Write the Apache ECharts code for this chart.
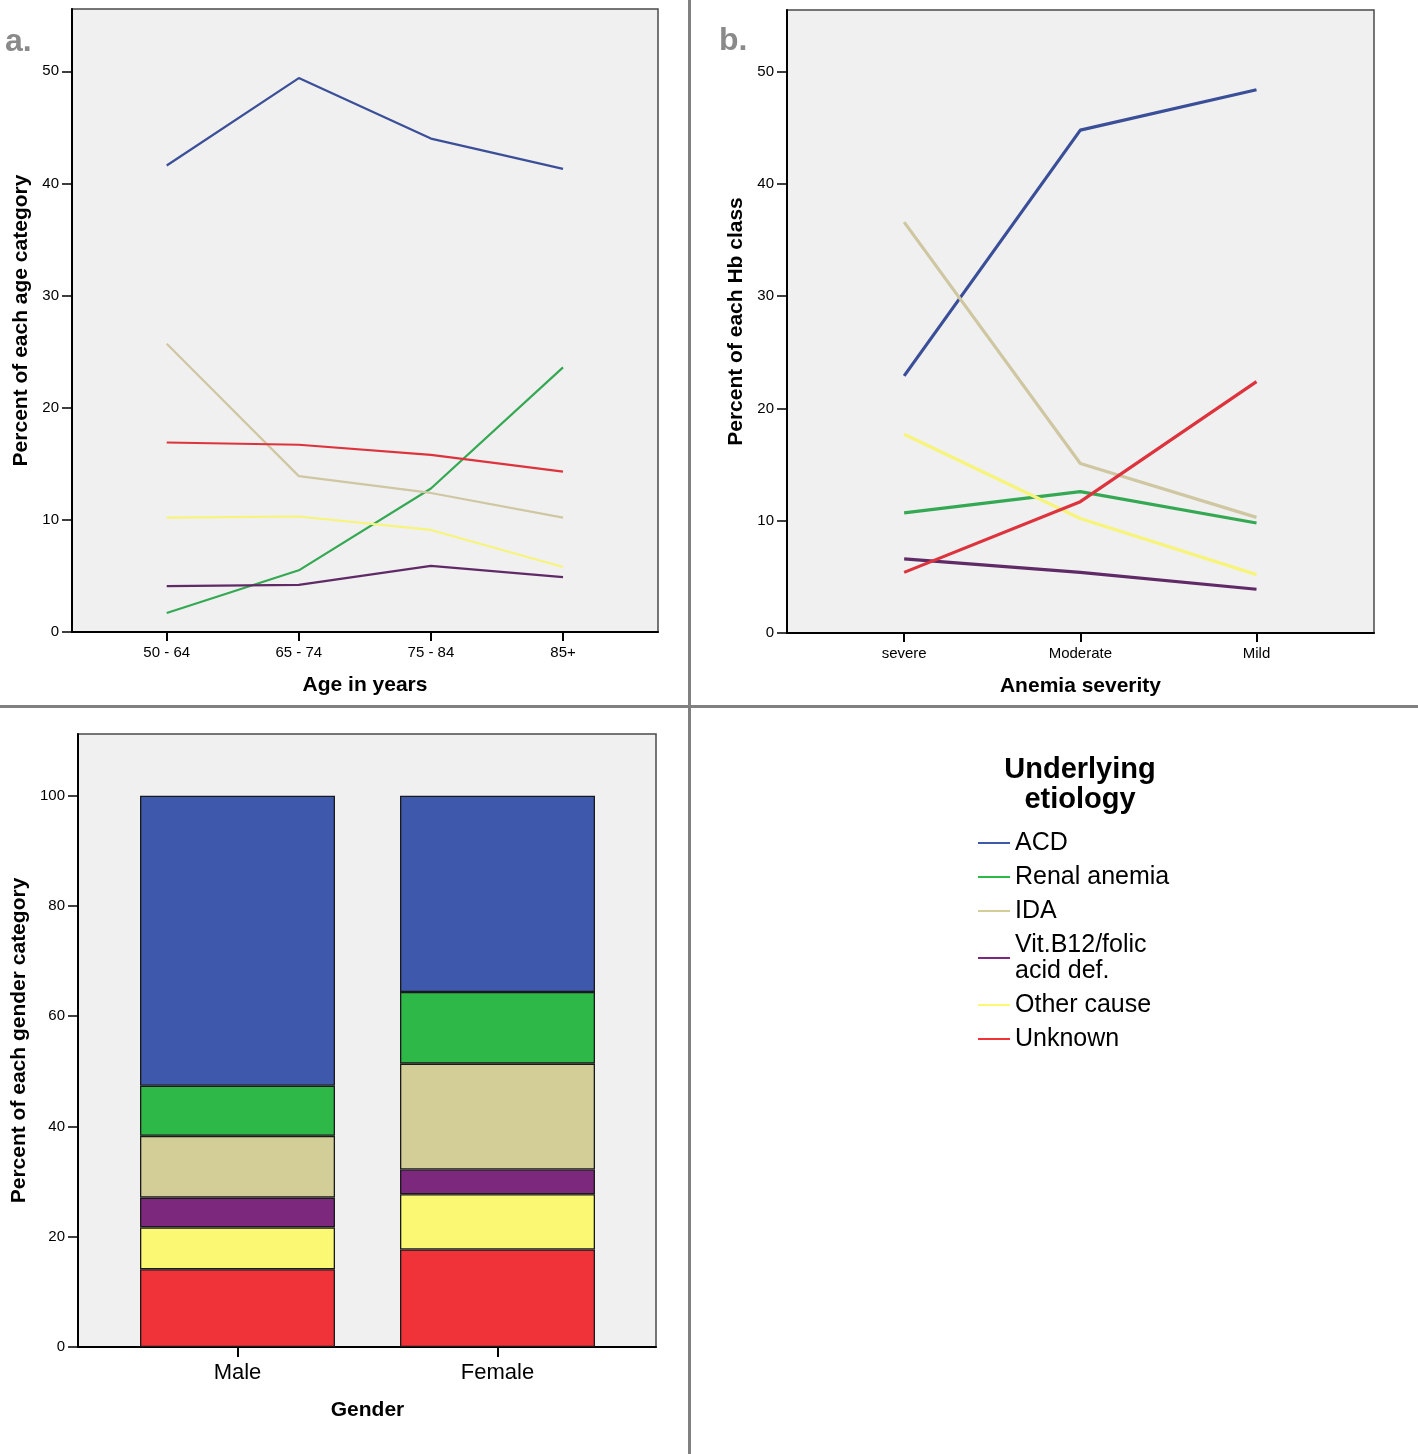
<!DOCTYPE html>
<html>
<head>
<meta charset="utf-8">
<script src="https://cdn.jsdelivr.net/npm/echarts@6/dist/echarts.min.js"></script>
<style>
html,body{margin:0;padding:0;background:#fff;}
#chart{width:1418px;height:1454px;}
</style>
</head>
<body>
<div id="chart"></div>
<script>
// ---- Data ----
const etiologies = ['ACD', 'Renal anemia', 'IDA', 'Vit.B12/folic acid def.', 'Other cause', 'Unknown'];

const ageCats = ['50 - 64', '65 - 74', '75 - 84', '85+'];
const acdAge = [41.6, 49.4, 44.0, 41.3];
const renalAge = [1.7, 5.5, 12.8, 23.6];
const idaAge = [25.7, 13.9, 12.4, 10.2];
const vitAge = [4.1, 4.2, 5.9, 4.9];
const otherAge = [10.2, 10.3, 9.1, 5.8];
const unknownAge = [16.9, 16.7, 15.8, 14.3];

const sevCats = ['severe', 'Moderate', 'Mild'];
const acdSev = [22.9, 44.8, 48.4];
const renalSev = [10.7, 12.6, 9.8];
const idaSev = [36.6, 15.1, 10.3];
const vitSev = [6.6, 5.4, 3.9];
const otherSev = [17.7, 10.2, 5.2];
const unknownSev = [5.4, 11.7, 22.4];

const genderCats = ['Male', 'Female'];
const acdGender = [52.6, 35.6];
const renalGender = [9.1, 13.0];
const idaGender = [11.2, 19.2];
const vitGender = [5.4, 4.5];
const otherGender = [7.6, 10.0];
const unknownGender = [14.1, 17.7];

const lineTicks = [0, 10, 20, 30, 40, 50];
const barTicks = [0, 20, 40, 60, 80, 100];

// ---- Styling ----
const colors = {
  'ACD': '#3E58AC',
  'Renal anemia': '#2EB848',
  'IDA': '#D3CE97',
  'Vit.B12/folic acid def.': '#7C287D',
  'Other cause': '#FBF873',
  'Unknown': '#EF3338'
};
const lineColors = {
  'ACD': '#3b4e98',
  'Renal anemia': '#34a852',
  'IDA': '#cfc6a2',
  'Vit.B12/folic acid def.': '#5f2a66',
  'Other cause': '#f6f47a',
  'Unknown': '#dd333d'
};
const NARROW = '"Liberation Sans Narrow", "Arial Narrow", "Liberation Sans", Arial, sans-serif';
const SANS = '"Liberation Sans", Arial, sans-serif';

const ageData = {'ACD': acdAge, 'Renal anemia': renalAge, 'IDA': idaAge, 'Vit.B12/folic acid def.': vitAge, 'Other cause': otherAge, 'Unknown': unknownAge};
const sevData = {'ACD': acdSev, 'Renal anemia': renalSev, 'IDA': idaSev, 'Vit.B12/folic acid def.': vitSev, 'Other cause': otherSev, 'Unknown': unknownSev};
const genderData = {'ACD': acdGender, 'Renal anemia': renalGender, 'IDA': idaGender, 'Vit.B12/folic acid def.': vitGender, 'Other cause': otherGender, 'Unknown': unknownGender};

function gridStyle(g) {
  return Object.assign({show: true, backgroundColor: '#f0f0f0', borderColor: '#4a4a4a', borderWidth: 1.5, containLabel: false, outerBoundsMode: 'none'}, g);
}

const xNameStyle = {fontFamily: SANS, fontWeight: 'bold', fontSize: 21, color: '#000'};

function catXAxis(idx, cats, min, max, name, nameGap) {
  const ticks = cats.map((c, i) => i);
  return {
    gridIndex: idx, type: 'value', min: min, max: max,
    name: name, nameLocation: 'middle', nameGap: nameGap,
    nameTextStyle: xNameStyle,
    axisLine: {show: true, onZero: false, lineStyle: {color: '#000', width: 2}},
    axisTick: {show: true, length: 9, customValues: ticks, lineStyle: {color: '#000', width: 2}},
    axisLabel: {customValues: ticks, margin: 13, fontFamily: SANS, fontSize: 15, color: '#000',
      formatter: v => cats[Math.round(v)] || ''},
    splitLine: {show: false}
  };
}

function valYAxis(idx, max, ticks, name, nameGap) {
  return {
    gridIndex: idx, type: 'value', min: 0, max: max,
    name: name, nameLocation: 'middle', nameGap: nameGap,
    nameTextStyle: {fontFamily: SANS, fontWeight: 'bold', fontSize: 21, color: '#000'},
    axisLine: {show: true, onZero: false, lineStyle: {color: '#000', width: 2}},
    axisTick: {show: true, length: 10, customValues: ticks, lineStyle: {color: '#000', width: 1.5}},
    axisLabel: {customValues: ticks, margin: 13, fontFamily: SANS, fontSize: 15, color: '#000'},
    splitLine: {show: false}
  };
}

const series = [];
etiologies.forEach(name => {
  series.push({
    name: name, type: 'line', xAxisIndex: 0, yAxisIndex: 0,
    data: ageData[name].map((v, i) => [i, v]),
    symbol: 'none', lineStyle: {width: 2.2, color: lineColors[name]}, itemStyle: {color: colors[name]},
    z: 3
  });
});
etiologies.forEach(name => {
  series.push({
    name: name, type: 'line', xAxisIndex: 1, yAxisIndex: 1,
    data: sevData[name].map((v, i) => [i, v]),
    symbol: 'none', lineStyle: {width: 3.2, color: lineColors[name]}, itemStyle: {color: colors[name]},
    z: 3
  });
});
// Stacked bars (grid 3, category axis); bottom-to-top order is reverse of legend order
etiologies.slice().reverse().forEach(name => {
  series.push({
    name: name, type: 'bar', xAxisIndex: 3, yAxisIndex: 3, stack: 'gender',
    data: genderData[name],
    barWidth: 195,
    itemStyle: {color: colors[name], borderColor: '#1a1a1a', borderWidth: 1.3},
    z: 2
  });
});

const option = {
  animation: false,
  backgroundColor: '#ffffff',
  grid: [
    gridStyle({left: 72, top: 9, width: 586, height: 623}),
    gridStyle({left: 787, top: 10, width: 587, height: 623}),
    gridStyle({left: 78, top: 734, width: 578, height: 613}),
    {show: false, left: 107.5, top: 734, width: 520, height: 613, containLabel: false, outerBoundsMode: 'none'}
  ],
  xAxis: [
    catXAxis(0, ageCats, -0.717, 3.719, 'Age in years', 43),
    catXAxis(1, sevCats, -0.665, 2.667, 'Anemia severity', 43),
    {gridIndex: 2, type: 'value', min: 0, max: 1,
      axisLine: {show: true, onZero: false, lineStyle: {color: '#000', width: 2}},
      axisTick: {show: false}, axisLabel: {show: false}, splitLine: {show: false}},
    {gridIndex: 3, type: 'category', data: genderCats, boundaryGap: true,
      name: 'Gender', nameLocation: 'middle', nameGap: 53, nameTextStyle: xNameStyle,
      axisLine: {show: false},
      axisTick: {show: true, alignWithLabel: true, length: 10, lineStyle: {color: '#000', width: 2}},
      axisLabel: {margin: 15, fontFamily: SANS, fontSize: 22, color: '#000'},
      splitLine: {show: false}}
  ],
  yAxis: [
    valYAxis(0, 55.56, lineTicks, 'Percent of each age category', 40),
    valYAxis(1, 55.5, lineTicks, 'Percent of each Hb class', 40),
    valYAxis(2, 111.2, barTicks, 'Percent of each gender category', 48),
    {gridIndex: 3, type: 'value', min: 0, max: 111.2, show: false}
  ],
  legend: {
    data: etiologies,
    orient: 'vertical',
    left: 978, top: 830, padding: 0,
    icon: 'rect', itemWidth: 32, itemHeight: 2, itemGap: 8,
    selectedMode: false,
    formatter: n => n === 'Vit.B12/folic acid def.' ? 'Vit.B12/folic\nacid def.' : n,
    textStyle: {fontFamily: SANS, fontSize: 25, lineHeight: 26, color: '#000'}
  },
  graphic: [
    {type: 'rect', shape: {x: 688, y: 0, width: 3, height: 1454}, style: {fill: '#808080'}, z: 10},
    {type: 'rect', shape: {x: 0, y: 705, width: 1418, height: 3}, style: {fill: '#808080'}, z: 10},
    {type: 'text', x: 5, y: 26, style: {text: 'a.', fontFamily: SANS, fontWeight: 'bold', fontSize: 32, fill: '#8a8a8a'}, z: 10},
    {type: 'text', x: 719, y: 25, style: {text: 'b.', fontFamily: SANS, fontWeight: 'bold', fontSize: 32, fill: '#8a8a8a'}, z: 10},
    {type: 'text', x: 1080, y: 755, style: {text: 'Underlying\netiology', textAlign: 'center', fontFamily: SANS, fontWeight: 'bold', fontSize: 29, lineHeight: 30, fill: '#000'}, z: 10}
  ],
  series: series
};

const chart = echarts.init(document.getElementById('chart'), null, {renderer: 'canvas'});
chart.setOption(option);
</script>
</body>
</html>
